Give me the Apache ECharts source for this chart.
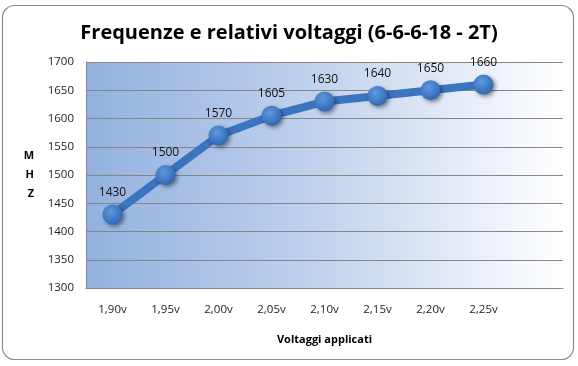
<!DOCTYPE html>
<html><head><meta charset="utf-8">
<script src="https://cdn.jsdelivr.net/npm/echarts@6/dist/echarts.min.js"></script>
<style>html,body{margin:0;padding:0;background:#fff}#c{width:578px;height:366px}</style>
</head><body><div id="c"></div>
<script>
const categories = ['1,90v','1,95v','2,00v','2,05v','2,10v','2,15v','2,20v','2,25v',''];
const mhz = [1430,1500,1570,1605,1630,1640,1650,1660];
const title = 'Frequenze e relativi voltaggi (6-6-6-18 - 2T)';
const xName = 'Voltaggi applicati';
const yName = 'M\nH\nZ';

const chart = echarts.init(document.getElementById('c'), null, {renderer:'canvas'});
chart.setOption({
  animation:false,
  backgroundColor:'#fff',
  graphic:[{type:'rect',shape:{x:2.5,y:5.5,width:571,height:354,r:12},style:{fill:'none',stroke:'#8c8c8c',lineWidth:1.2},z:-1}],
  title:{text:title,left:'center',top:18,textStyle:{fontFamily:'Open Sans',fontWeight:'bold',fontSize:20,color:'#000'}},
  grid:{left:86,right:15,top:62,bottom:78,show:true,borderWidth:0,
    backgroundColor:new echarts.graphic.LinearGradient(0,0,1,0,[{offset:0,color:'#93b1df'},{offset:0.5,color:'#c3d3ed'},{offset:1,color:'#ffffff'}])},
  xAxis:{type:'category',data:categories,boundaryGap:true,
    name:xName,nameLocation:'middle',nameGap:46,
    nameTextStyle:{fontFamily:'Open Sans',fontWeight:'bold',fontSize:11,color:'#000'},
    axisLine:{lineStyle:{color:'#868686'}},axisTick:{show:false},
    axisLabel:{margin:16,fontFamily:'Open Sans',fontSize:11.5,color:'#222'}},
  yAxis:{type:'value',min:1300,max:1700,interval:50,
    name:yName,nameLocation:'middle',nameGap:52,nameRotate:0,
    nameTextStyle:{fontFamily:'Open Sans',fontWeight:'bold',fontSize:11,color:'#000',lineHeight:19},
    axisLine:{show:true,lineStyle:{color:'#868686'}},axisTick:{show:false},
    splitLine:{lineStyle:{color:'#868686',width:1}},
    axisLabel:{margin:12,fontFamily:'Open Sans',fontSize:11.5,color:'#222',formatter:v=>String(v)}},
  series:[{type:'line',data:mhz,symbol:'circle',symbolSize:20,
    lineStyle:{color:'#3b74bf',width:8},
    itemStyle:{color:new echarts.graphic.RadialGradient(0.4,0.35,0.7,[{offset:0,color:'#5f98df'},{offset:1,color:'#2c66b3'}]),
      shadowColor:'rgba(0,0,0,0.45)',shadowBlur:4,shadowOffsetX:2,shadowOffsetY:2},
    label:{show:true,position:'top',distance:6,fontFamily:'Open Sans',fontSize:12,color:'#111'}}]
});
</script></body></html>
